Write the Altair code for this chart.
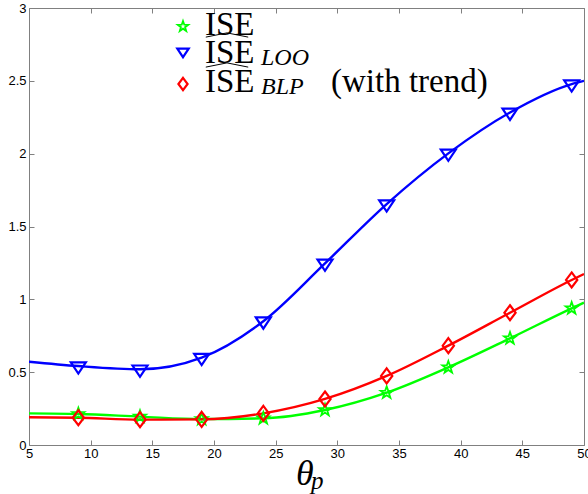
import altair as alt
import pandas as pd

# Curves are sampled at the plot edges and at the marked design points.
theta = [5, 9, 14, 19, 24, 29, 34, 39, 44, 49, 50]
marker_theta = [9, 14, 19, 24, 29, 34, 39, 44, 49]

ise = [0.217, 0.213, 0.195, 0.178, 0.183, 0.240, 0.359, 0.533, 0.732, 0.938, 0.977]
ise_loo = [0.572, 0.542, 0.520, 0.600, 0.850, 1.247, 1.654, 2.002, 2.283, 2.478, 2.500]
ise_blp = [0.190, 0.187, 0.174, 0.176, 0.217, 0.316, 0.474, 0.682, 0.908, 1.133, 1.174]

x_ticks = [5, 10, 15, 20, 25, 30, 35, 40, 45, 50]
y_ticks = [0, 0.5, 1, 1.5, 2, 2.5, 3]

series = ["ISE", "ISE_LOO", "ISE_BLP"]
colors = ["#00ff00", "#0000ff", "#ff0000"]

rows = []
for name, vals in zip(series, [ise, ise_loo, ise_blp]):
    for t, v in zip(theta, vals):
        rows.append({"theta": t, "value": v, "series": name, "marked": t in marker_theta})
df = pd.DataFrame(rows)

STAR = ("M0,-1L0.235,-0.324L0.951,-0.309L0.38,0.124L0.588,0.809L0,0.4"
        "L-0.588,0.809L-0.38,0.124L-0.951,-0.309L-0.235,-0.324Z")
TRI_DOWN = "M-1,-0.5L1,-0.5L0,1Z"
DIAMOND = "M0,-1L0.75,0L0,1L-0.75,0Z"
HAT = "M-1,0.1L0,-0.1L1,0.1"

GRAY = "#808080"
xscale = alt.Scale(domain=[5, 50], nice=False, zero=False)
yscale = alt.Scale(domain=[0, 3], nice=False)
color = alt.Color("series:N", scale=alt.Scale(domain=series, range=colors), legend=None)

axis_common = dict(title=None, domain=False, grid=False, tickSize=5, offset=-5,
                   tickColor=GRAY, tickWidth=1, labelFont="Liberation Sans",
                   labelFontSize=13, labelColor="black", labelFlush=False,
                   labelOverlap=False)

lines = alt.Chart(df).mark_line(strokeWidth=2.4, interpolate="monotone", clip=True).encode(
    x=alt.X("theta:Q", scale=xscale,
            axis=alt.Axis(values=x_ticks, labelPadding=2, orient="bottom", **axis_common)),
    y=alt.Y("value:Q", scale=yscale,
            axis=alt.Axis(values=y_ticks, format="~g", labelPadding=3, orient="left", **axis_common)),
    color=color,
    detail="series:N",
)

# inward ticks on the top and right edges of the frame
frame_ticks = alt.Chart(df).mark_point(opacity=0).encode(
    x=alt.X("theta:Q", scale=xscale,
            axis=alt.Axis(values=x_ticks, labels=False, orient="top", **axis_common)),
    y=alt.Y("value:Q", scale=yscale,
            axis=alt.Axis(values=y_ticks, labels=False, orient="right", **axis_common)),
)


def markers(name, shape, size, col, width=2.2):
    return alt.Chart(df).transform_filter(
        (alt.datum.series == name) & alt.datum.marked
    ).mark_point(shape=shape, size=size, filled=False, stroke=col, strokeWidth=width, opacity=1).encode(
        x=alt.X("theta:Q", scale=xscale, axis=None),
        y=alt.Y("value:Q", scale=yscale, axis=None),
    )


pts_ise = markers("ISE", STAR, 160, colors[0], 1.8)
pts_loo = markers("ISE_LOO", TRI_DOWN, 225, colors[1])
pts_blp = markers("ISE_BLP", DIAMOND, 225, colors[2])

one = pd.DataFrame({"k": [0]})


def label(text, x, y, size, style="normal", font="Liberation Serif"):
    return alt.Chart(one).mark_text(
        text=text, font=font, fontSize=size, fontStyle=style, align="left",
        baseline="alphabetic", color="black",
    ).encode(x=alt.value(x), y=alt.value(y))


def glyph(shape, x, y, size, col, width=2.2):
    return alt.Chart(one).mark_point(
        shape=shape, size=size, filled=False, stroke=col, strokeWidth=width, opacity=1
    ).encode(x=alt.value(x), y=alt.value(y))


legend = [
    glyph(STAR, 154, 18.5, 120, colors[0], 1.8),
    glyph(TRI_DOWN, 154, 43.5, 130, colors[1]),
    glyph(DIAMOND, 154, 76, 150, colors[2]),
    label("ISE", 176, 27, 33),
    label("ISE", 176, 55, 33),
    glyph(HAT, 198, 27, 1800, "black", 1),
    label("LOO", 232, 57, 24, "italic"),
    label("ISE", 176, 84, 33),
    glyph(HAT, 198, 57, 1800, "black", 1),
    label("BLP", 232, 86, 24, "italic"),
    label("(with trend)", 302, 84, 33),
]

xtitle = [
    label("θ", 267, 477, 36, "italic"),
    label("p", 282, 481, 25, "italic"),
]

chart = alt.layer(
    lines, frame_ticks, pts_ise, pts_loo, pts_blp, *legend, *xtitle
).resolve_axis(x="independent", y="independent").properties(
    width=555, height=437,
    padding={"left": 29, "top": 8, "right": 4, "bottom": 49},
    autosize=alt.AutoSizeParams(type="none"),
    background="white",
).configure_view(stroke=GRAY, strokeWidth=1)

chart.save("out.html", embed_options={"renderer": "svg", "actions": False})
